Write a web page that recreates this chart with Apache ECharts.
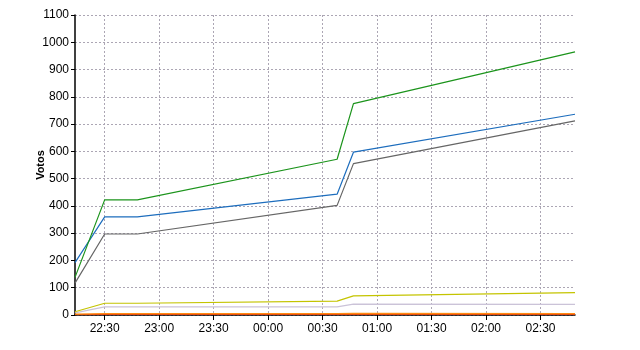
<!DOCTYPE html>
<html>
<head>
<meta charset="utf-8">
<script src="https://cdn.jsdelivr.net/npm/echarts@6/dist/echarts.min.js"></script>
<style>html,body{margin:0;padding:0;background:#fff}#c{width:640px;height:350px}</style>
</head>
<body>
<div id="c"></div>
<script>
// sample times (HH:MM:SS)
var times = ["22:13:40", "22:30:00", "22:48:00", "00:38:00", "00:47:00", "02:49:00"];
var tickLabels = ["22:30", "23:00", "23:30", "00:00", "00:30", "01:00", "01:30", "02:00", "02:30"];
var yTicks = [0, 100, 200, 300, 400, 500, 600, 700, 800, 900, 1000, 1100];
var greenVals = [138, 422, 422, 571, 775, 965];
var blueVals = [192, 360, 360, 443, 597, 736];
var grayVals = [117, 297, 297, 402, 555, 712];
var yellowVals = [12, 43, 43, 51, 70, 82];
var lightVals = [8, 30, 30, 30, 40, 39];
var orangeVals = [3, 5, 5, 5, 6, 5];
var redVals = [1, 2, 2, 2, 2, 2];

function toMin(s) {
  var p = s.split(":").map(Number);
  var m = p[0] * 60 + p[1] + (p[2] || 0) / 60;
  if (p[0] < 12) m += 24 * 60;
  return m - (22 * 60 + 30);
}
var xs = times.map(toMin);
var tickVals = tickLabels.map(toMin);
function pairs(v) { return xs.map(function (x, i) { return [x, v[i]]; }); }
function fmt(v) {
  var m = Math.round(v + 22 * 60 + 30) % (24 * 60);
  var h = Math.floor(m / 60), mm = m % 60;
  return (h < 10 ? "0" : "") + h + ":" + (mm < 10 ? "0" : "") + mm;
}
var gridColor = "#aca6b4";
var chart = echarts.init(document.getElementById("c"), null, { renderer: "canvas" });
function line(name, data, color) {
  return { name: name, type: "line", data: pairs(data), symbol: "none", animation: false,
    lineStyle: { color: color, width: 1.2 }, itemStyle: { color: color } };
}
chart.setOption({
  animation: false,
  grid: { left: 75, right: 65, top: 15, bottom: 35, containLabel: false },
  xAxis: {
    type: "value", min: xs[0], max: xs[xs.length - 1],
    axisLine: { show: true, onZero: false, lineStyle: { color: "#000", width: 1.5 } },
    axisTick: { show: true, customValues: tickVals, length: 5, lineStyle: { color: "#000" } },
    axisLabel: { customValues: tickVals, formatter: fmt, color: "#000", fontFamily: "Liberation Sans, Arial", fontSize: 12, margin: 8 },
    splitLine: { show: true, customValues: tickVals, lineStyle: { color: gridColor, type: [2, 2], width: 1 } }
  },
  yAxis: {
    type: "value", min: 0, max: 1100, interval: 100,
    name: "Votos", nameLocation: "middle", nameGap: 29, nameMoveOverlap: false,
    nameTextStyle: { fontWeight: "bold", fontSize: 11, fontFamily: "Liberation Sans, Arial", color: "#000" },
    axisLine: { show: true, onZero: false, lineStyle: { color: "#000", width: 1.5 } },
    axisTick: { show: true, length: 4, lineStyle: { color: "#000" } },
    axisLabel: { color: "#000", fontFamily: "Liberation Sans, Arial", fontSize: 12, margin: 6,
      formatter: function (v) { return String(v); } },
    splitLine: { show: true, lineStyle: { color: gridColor, type: [2, 2], width: 1 } }
  },
  series: [
    line("light", lightVals, "#cbc3d8"),
    line("yellow", yellowVals, "#c4c400"),
    line("red", redVals, "#e03a10"),
    line("orange", orangeVals, "#ff8a10"),
    line("gray", grayVals, "#666666"),
    line("blue", blueVals, "#1d6dbd"),
    line("green", greenVals, "#1c941c")
  ]
});
</script>
</body>
</html>
